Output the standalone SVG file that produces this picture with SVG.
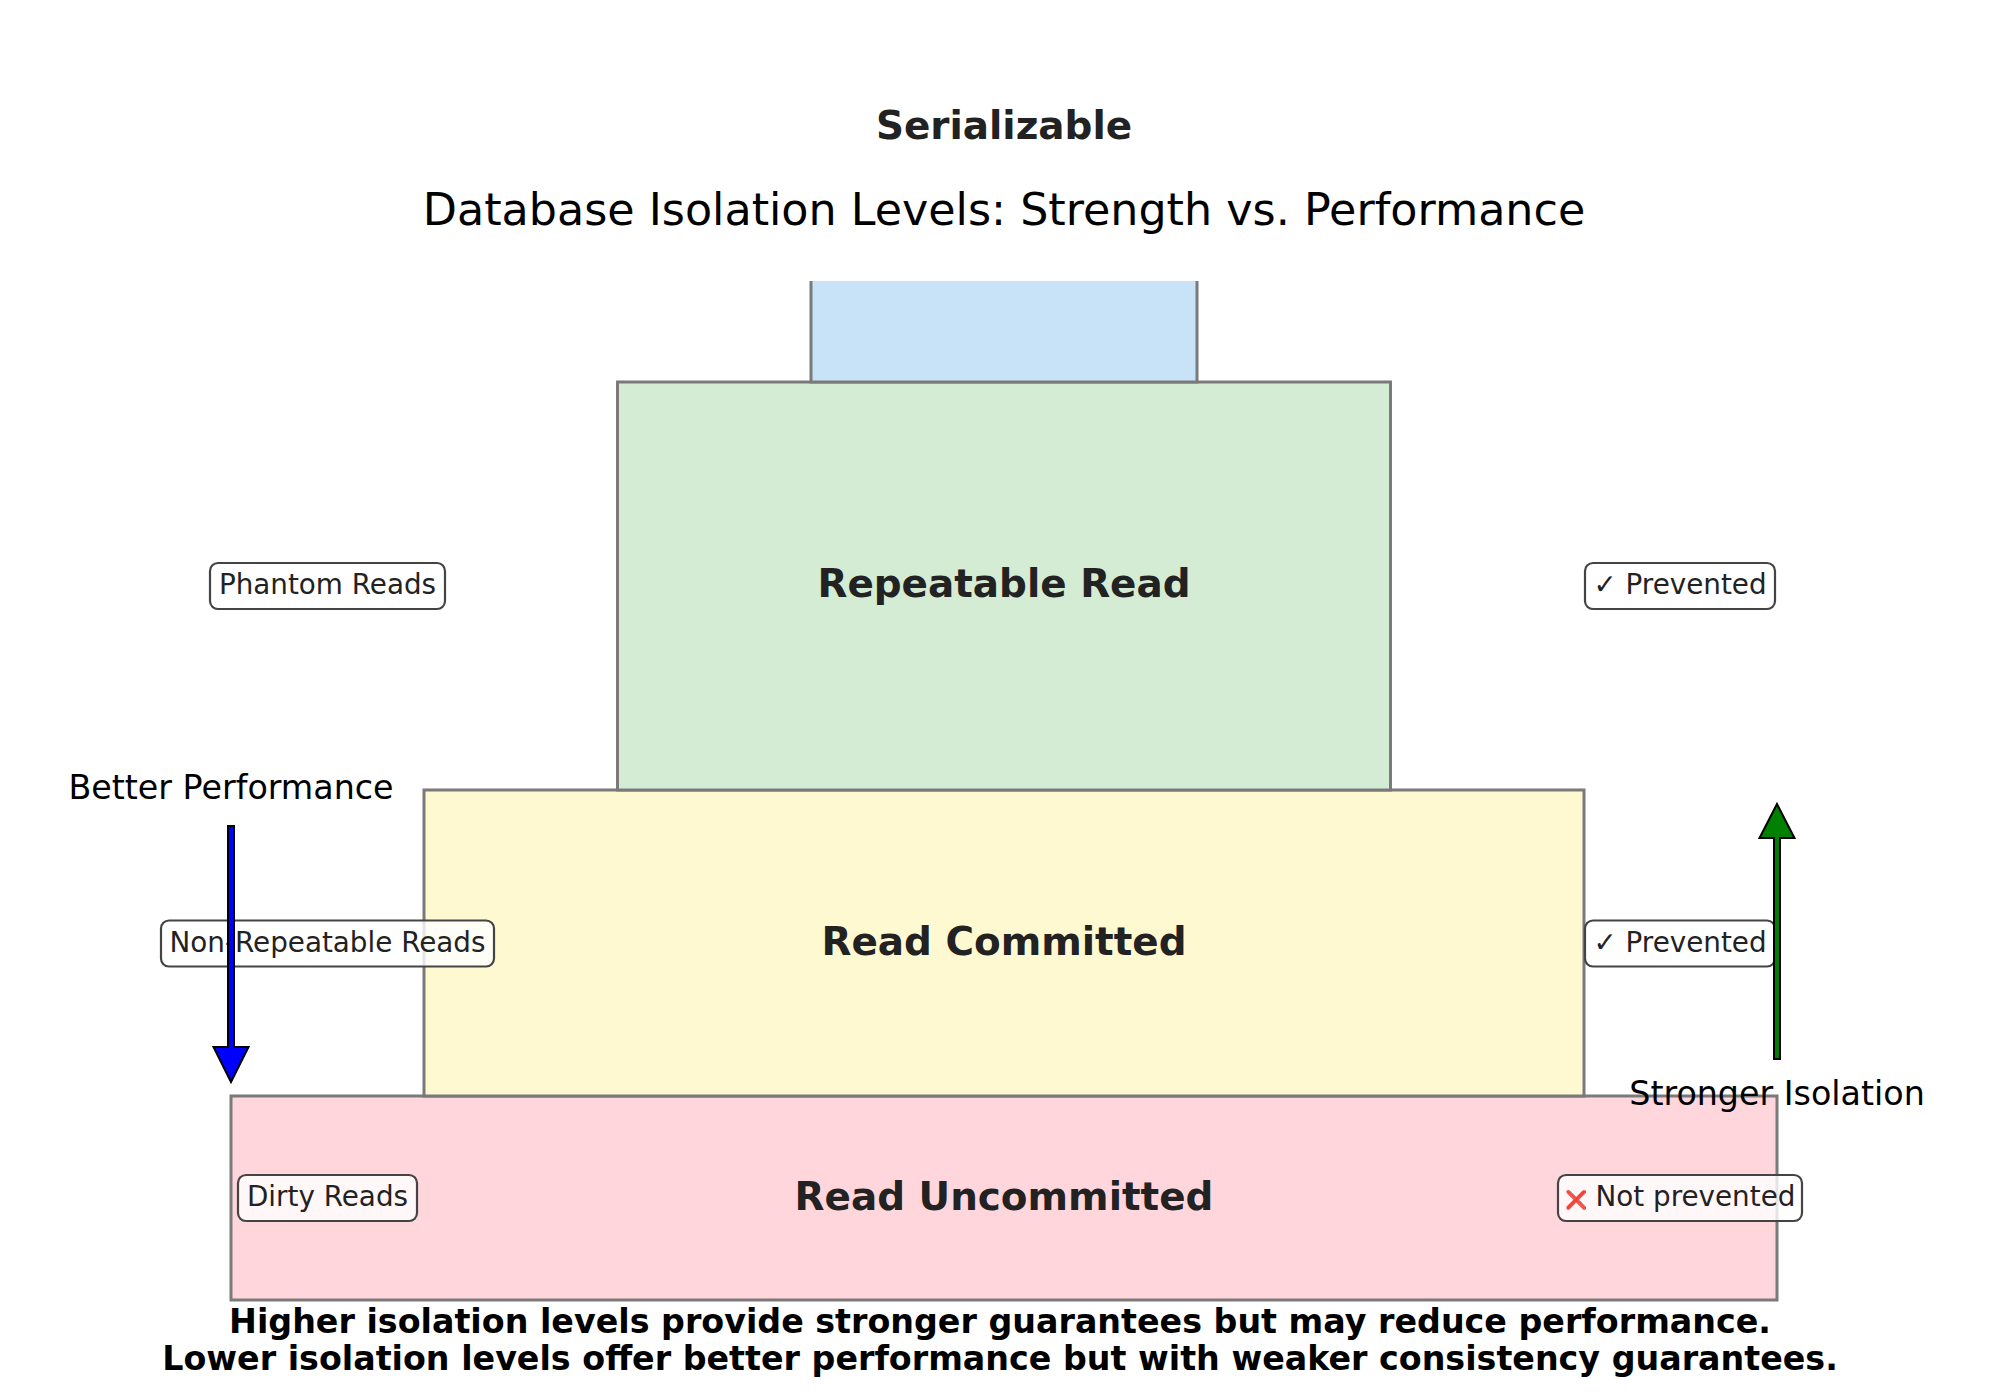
<svg xmlns="http://www.w3.org/2000/svg" width="2000" height="1400" viewBox="0 0 2000 1400">
<style>
.lvl{stroke:#7a7a7a;stroke-width:3}
.lvlname{font-family:"DejaVu Sans",sans-serif;font-weight:bold;font-size:38.9px;fill:#222;text-anchor:middle}
.tag rect{fill:#fff;fill-opacity:0.8;stroke:#444;stroke-width:2.2}
.tag text{font-family:"DejaVu Sans",sans-serif;font-size:27.8px;fill:#222;text-anchor:middle}
.side{font-family:"DejaVu Sans",sans-serif;font-size:33.3px;fill:#000;text-anchor:middle}
.arrow{stroke:#000;stroke-width:2;stroke-linejoin:miter}
</style>
<rect width="2000" height="1400" fill="#fff"/>
<text x="1004" y="225" font-family="DejaVu Sans, sans-serif" font-size="44.4" text-anchor="middle" fill="#000">Database Isolation Levels: Strength vs. Performance</text>

<g id="read-uncommitted">
<rect class="lvl" x="231" y="1096" width="1546" height="204" fill="#ffd6dc"/>
<text class="lvlname" x="1004" y="1210">Read Uncommitted</text>
</g>
<g id="read-committed">
<rect class="lvl" x="424" y="790" width="1160" height="306" fill="#fef9d1"/>
<text class="lvlname" x="1004" y="955">Read Committed</text>
</g>
<g id="repeatable-read">
<rect class="lvl" x="617.5" y="382" width="773" height="408" fill="#d4ebd4"/>
<text class="lvlname" x="1004" y="597">Repeatable Read</text>
</g>
<g id="serializable">
<rect x="811" y="281" width="386" height="101" fill="#c8e3f8"/>
<path class="lvl" d="M811,281 V382 H1197 V281" fill="none"/>
<text class="lvlname" x="1004" y="139">Serializable</text>
</g>

<g id="tag-phantom" class="tag">
<rect x="210" y="563" width="235" height="46" rx="8"/>
<text x="327.5" y="594">Phantom Reads</text>
</g>
<g id="tag-nonrepeatable" class="tag">
<rect x="161" y="920.5" width="333" height="46" rx="8"/>
<text x="327.5" y="952">Non-Repeatable Reads</text>
</g>
<g id="tag-dirty" class="tag">
<rect x="238" y="1175" width="179" height="46" rx="8"/>
<text x="327.5" y="1206">Dirty Reads</text>
</g>
<g id="tag-prevented-1" class="tag">
<rect x="1585" y="563" width="190" height="46" rx="8"/>
<text x="1680" y="594">✓ Prevented</text>
</g>
<g id="tag-prevented-2" class="tag">
<rect x="1585" y="920.5" width="190" height="46" rx="8"/>
<text x="1680" y="952">✓ Prevented</text>
</g>
<g id="tag-not-prevented" class="tag">
<rect x="1558" y="1175" width="244" height="46" rx="8"/>
<text x="1680" y="1206"><tspan font-size="18">❌</tspan> Not prevented</text>
</g>

<g id="connectors">
<polygon class="arrow" fill="#0000ff" points="228,826 234,826 234,1047 248.5,1047 231,1082 213.5,1047 228,1047"/>
<polygon class="arrow" fill="#008000" points="1774,1059 1780,1059 1780,838 1794.5,838 1777,804 1759.5,838 1774,838"/>
</g>
<g id="label-better">
<text class="side" x="231" y="799">Better Performance</text>
</g>
<g id="label-stronger">
<text class="side" x="1777" y="1105">Stronger Isolation</text>
</g>

<g id="footer" font-family="DejaVu Sans, sans-serif" font-weight="bold" font-size="33.3" text-anchor="middle" fill="#000">
<text x="1000" y="1333">Higher isolation levels provide stronger guarantees but may reduce performance.</text>
<text x="1000" y="1370">Lower isolation levels offer better performance but with weaker consistency guarantees.</text>
</g>
</svg>
